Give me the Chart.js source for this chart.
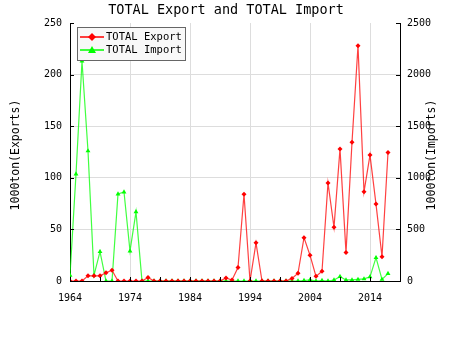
<!DOCTYPE html>
<html>
<head>
<meta charset="utf-8">
<script src="https://cdn.jsdelivr.net/npm/chart.js@4"></script>
<style>
  html, body { margin: 0; padding: 0; background: #fff; }
  #wrap { width: 450px; height: 350px; }
</style>
</head>
<body>
<div id="wrap"><canvas id="myChart" width="450" height="350"></canvas></div>
<script>
const years = [1964, 1965, 1966, 1967, 1968, 1969, 1970, 1971, 1972, 1973,
    1974, 1975, 1976, 1977, 1978, 1979, 1980, 1981, 1982, 1983,
    1984, 1985, 1986, 1987, 1988, 1989, 1990, 1991, 1992, 1993,
    1994, 1995, 1996, 1997, 1998, 1999, 2000, 2001, 2002, 2003,
    2004, 2005, 2006, 2007, 2008, 2009, 2010, 2011, 2012, 2013,
    2014, 2015, 2016, 2017];

// 1000 ton, left axis
const exportsData = [0, 0, 0, 5, 5, 5, 8, 10.5, 0, 0,
    0, 0, 0, 3.5, 0, 0, 0, 0, 0, 0,
    0, 0, 0, 0, 0, 0, 3, 1, 13, 84,
    0, 37, 0, 0, 0, 0, 0, 2.5, 7.5, 42,
    25, 4.5, 9.5, 95, 52, 128, 27.5, 134.5, 228, 86.5,
    122, 74.5, 23.5, 124.5];

// 1000 ton, right axis
const importsData = [55, 1037, 2130, 1260, 55, 284, 0, 0, 843, 862,
    290, 670, 0, 0, 0, 0, 0, 0, 0, 0,
    0, 0, 0, 0, 0, 0, 0, 0, 0, 0,
    0, 0, 0, 0, 0, 0, 0, 0, 0, 5,
    10, 0, 5, 0, 10, 42, 10, 10, 15, 20,
    40, 226, 15, 71];

const xLabelYears = [1964, 1974, 1984, 1994, 2004, 2014];
const leftTicks = [0, 50, 100, 150, 200, 250];
const rightTicks = [0, 500, 1000, 1500, 2000, 2500];

const titleText = 'TOTAL Export and TOTAL Import';
const leftTitle = '1000ton(Exports)';
const rightTitle = '1000ton(Imports)';
const seriesNames = ['TOTAL Export', 'TOTAL Import'];

function toPoints(vals) {
    return years.map((y, i) => ({ x: y, y: vals[i] }));
}

const MONO = '"DejaVu Sans Mono"';
Chart.defaults.font.family = MONO;
Chart.defaults.font.size = 10;
Chart.defaults.color = '#000';

const decorPlugin = {
    id: 'decor',
    afterDraw(chart) {
        const c = chart.ctx;
        const a = chart.chartArea;
        const sx = chart.scales.x, sy = chart.scales.y, sy1 = chart.scales.y1;
        c.save();

        // inward tick marks
        c.strokeStyle = '#000';
        c.lineWidth = 1;
        c.beginPath();
        for (let v = 1964; v <= 2019; v += 5) {
            const px = Math.round(sx.getPixelForValue(v)) + 0.5;
            c.moveTo(px, a.bottom);
            c.lineTo(px, a.bottom - 4);
        }
        leftTicks.forEach(v => {
            const py = Math.round(sy.getPixelForValue(v)) + 0.5;
            c.moveTo(a.left, py);
            c.lineTo(a.left + 4, py);
        });
        rightTicks.forEach(v => {
            const py = Math.round(sy1.getPixelForValue(v)) + 0.5;
            c.moveTo(a.right, py);
            c.lineTo(a.right - 4, py);
        });
        c.stroke();

        // title
        c.fillStyle = '#000';
        c.font = '13.5px ' + MONO;
        c.textAlign = 'center';
        c.textBaseline = 'middle';
        c.fillText(titleText, 226, 10);

        // axis titles (both read bottom to top)
        c.font = '11.5px ' + MONO;
        c.save();
        c.translate(16, 155);
        c.rotate(-Math.PI / 2);
        c.fillText(leftTitle, 0, 0);
        c.restore();
        c.save();
        c.translate(432, 155);
        c.rotate(-Math.PI / 2);
        c.fillText(rightTitle, 0, 0);
        c.restore();

        // legend box
        c.fillStyle = '#f8f8f8';
        c.fillRect(77.5, 27.5, 108, 33);
        c.strokeStyle = '#666';
        c.lineWidth = 1;
        c.strokeRect(77.5, 27.5, 108, 33);

        const rows = [
            { y: 37, color: '#ff0000', shape: 'diamond' },
            { y: 50, color: '#00ff00', shape: 'triangle' }
        ];
        rows.forEach((r, i) => {
            c.strokeStyle = r.color;
            c.lineWidth = 1.5;
            c.beginPath();
            c.moveTo(80, r.y);
            c.lineTo(104, r.y);
            c.stroke();
            c.fillStyle = r.color;
            c.beginPath();
            if (r.shape === 'diamond') {
                c.moveTo(92, r.y - 4);
                c.lineTo(96, r.y);
                c.lineTo(92, r.y + 4);
                c.lineTo(88, r.y);
            } else {
                c.moveTo(92, r.y - 4);
                c.lineTo(96, r.y + 3);
                c.lineTo(88, r.y + 3);
            }
            c.closePath();
            c.fill();
            c.fillStyle = '#000';
            c.font = '10.5px ' + MONO;
            c.textAlign = 'left';
            c.fillText(seriesNames[i], 106, r.y);
        });

        c.restore();
    }
};

const ctx = document.getElementById('myChart').getContext('2d');

new Chart(ctx, {
    type: 'line',
    data: {
        datasets: [{
                label: seriesNames[0],
                data: toPoints(exportsData),
                yAxisID: 'y',
                borderColor: 'rgba(255,0,0,0.75)',
                backgroundColor: '#ff0000',
                borderWidth: 1.2,
                pointStyle: 'rectRot',
                pointRadius: 2.5,
                pointBorderWidth: 0,
                tension: 0
            },
            {
                label: seriesNames[1],
                data: toPoints(importsData),
                yAxisID: 'y1',
                borderColor: 'rgba(0,255,0,0.75)',
                backgroundColor: '#00ff00',
                borderWidth: 1.2,
                pointStyle: 'triangle',
                pointRadius: 2.8,
                pointBorderWidth: 0,
                tension: 0
            }
        ]
    },
    options: {
        responsive: false,
        animation: false,
        layout: {
            padding: { top: 23, left: 0, right: 0, bottom: 0 }
        },
        scales: {
            x: {
                type: 'linear',
                min: 1964,
                max: 2019,
                afterFit: function (scale) { scale.height = 69; },
                afterBuildTicks: function (scale) {
                    scale.ticks = xLabelYears.map(v => ({ value: v }));
                },
                ticks: {
                    padding: 11,
                    autoSkip: false,
                    maxRotation: 0,
                    callback: function (value) { return String(value); }
                },
                grid: {
                    drawTicks: false,
                    color: function (context) {
                        return context.tick && context.tick.value === 1964 ? 'rgba(0,0,0,0)' : '#dddddd';
                    }
                },
                border: { display: true, color: '#000', width: 1 }
            },
            y: {
                position: 'left',
                min: 0,
                max: 250,
                afterFit: function (scale) { scale.width = 70; },
                afterBuildTicks: function (scale) {
                    scale.ticks = leftTicks.map(v => ({ value: v }));
                },
                ticks: {
                    padding: 8,
                    callback: function (value) { return String(value); }
                },
                grid: {
                    drawTicks: false,
                    color: function (context) {
                        const v = context.tick ? context.tick.value : 0;
                        return (v === 0 || v === 250) ? 'rgba(0,0,0,0)' : '#dddddd';
                    }
                },
                border: { display: true, color: '#000', width: 1 }
            },
            y1: {
                position: 'right',
                min: 0,
                max: 2500,
                afterFit: function (scale) { scale.width = 50; },
                afterBuildTicks: function (scale) {
                    scale.ticks = rightTicks.map(v => ({ value: v }));
                },
                ticks: {
                    padding: 7,
                    callback: function (value) { return String(value); }
                },
                grid: { drawOnChartArea: false, drawTicks: false },
                border: { display: true, color: '#000', width: 1 }
            }
        },
        plugins: {
            legend: { display: false },
            title: { display: false },
            tooltip: { enabled: false }
        }
    },
    plugins: [decorPlugin]
});
</script>
</body>
</html>
